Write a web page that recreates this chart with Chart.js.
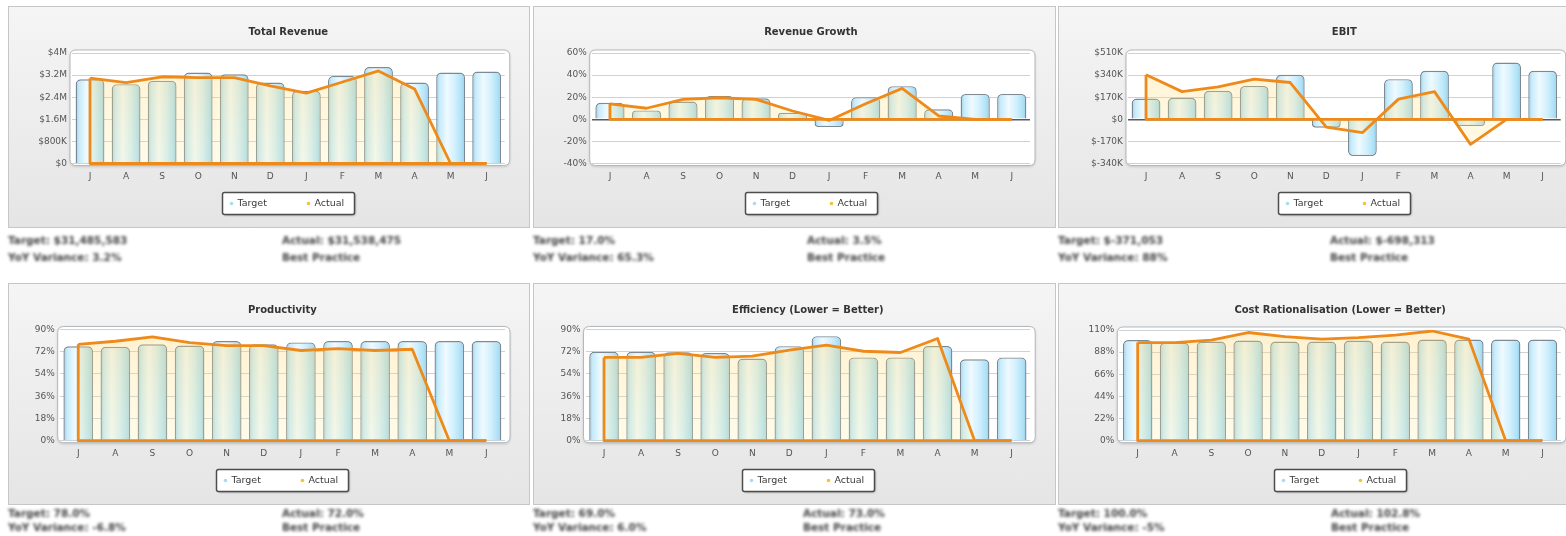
<!DOCTYPE html>
<html>
<head>
<meta charset="utf-8">
<script src="https://cdn.jsdelivr.net/npm/chart.js@4.4.1/dist/chart.umd.min.js"></script>
<style>
  html, body { margin: 0; padding: 0; background: #fff; }
  body { width: 1566px; height: 536px; overflow: hidden; position: relative; font-family: "DejaVu Sans", sans-serif; }
  .panel { position: absolute; box-sizing: border-box; border: 1px solid #c6c6c6; background: linear-gradient(#f5f5f5, #e5e5e5); }
  canvas.kpi { position: absolute; }
  .note { position: absolute; font: bold 10.5px "DejaVu Sans", sans-serif; line-height: 12px; color: #444; white-space: nowrap; filter: blur(1.4px); }
</style>
</head>
<body>
<script>
// Month axis (financial year July .. June)
const months = ['J', 'A', 'S', 'O', 'N', 'D', 'J', 'F', 'M', 'A', 'M', 'J'];

// Total Revenue ($)
const revenueTarget = [3050000, 2870000, 3000000, 3290000, 3230000, 2930000, 2630000, 3170000, 3490000, 2930000, 3290000, 3330000];
const revenueActual = [3090000, 2930000, 3140000, 3110000, 3110000, 2810000, 2550000, 2950000, 3350000, 2700000, 0, 0];

// Revenue Growth (%)
const growthTarget = [15, 8, 16, 21, 19, 6, -7, 20, 30, 9, 23, 23];
const growthActual = [14, 10, 18, 19.5, 18, 7.5, -1, 14, 28, 3, 0, 0];

// EBIT ($)
const ebitTarget = [160000, 165000, 219000, 257000, 342000, -65000, -283000, 309000, 373000, -52000, 437000, 373000];
const ebitActual = [342000, 213000, 250000, 309000, 283000, -60000, -103000, 155000, 213000, -193000, 0, 0];

// Productivity (%)
const productivityTarget = [76.4, 76, 78, 77, 80.7, 78, 79.5, 80.7, 80.7, 80.7, 80.7, 80.7];
const productivityActual = [78, 80.5, 84, 79.4, 77, 77, 73, 74.6, 73, 74, 0, 0];

// Efficiency (%), lower is better
const efficiencyTarget = [72, 72, 71.6, 71, 66.5, 76.5, 84.6, 67.4, 67.4, 76.6, 65.9, 67.4];
const efficiencyActual = [67.4, 67.4, 70.6, 67.4, 68.4, 73.3, 77.3, 72.4, 71.4, 82.7, 0, 0];

// Cost Rationalisation (%), lower is better
const costTarget = [100, 97.5, 98.5, 99.5, 98.5, 98.5, 99.5, 98.5, 100.5, 100.5, 100.5, 100.5];
const costActual = [97.5, 97.5, 100, 107.5, 103.5, 101, 102.5, 105, 109, 101, 0, 0];

// Value-axis ranges [min, max, step]
const revenueAxis = [0, 4000000, 800000];
const growthAxis = [-40, 60, 20];
const ebitAxis = [-340000, 510000, 170000];
const productivityAxis = [0, 90, 18];
const efficiencyAxis = [0, 90, 18];
const costAxis = [0, 110, 22];

// Summary lines shown under each panel
const revenueNotes = ['Target: $31,485,583', 'YoY Variance: 3.2%', 'Actual: $31,538,475', 'Best Practice'];
const growthNotes = ['Target: 17.0%', 'YoY Variance: 65.3%', 'Actual: 3.5%', 'Best Practice'];
const ebitNotes = ['Target: $-371,053', 'YoY Variance: 88%', 'Actual: $-698,313', 'Best Practice'];
const productivityNotes = ['Target: 78.0%', 'YoY Variance: -6.8%', 'Actual: 72.0%', 'Best Practice'];
const efficiencyNotes = ['Target: 69.0%', 'YoY Variance: 6.0%', 'Actual: 73.0%', 'Best Practice'];
const costNotes = ['Target: 100.0%', 'YoY Variance: -5%', 'Actual: 102.8%', 'Best Practice'];

const money = v => {
  if (v === 0) return '$0';
  const a = Math.abs(v);
  if (a >= 1000000) return '$' + parseFloat((v / 1000000).toFixed(1)) + 'M';
  return '$' + Math.round(v / 1000) + 'K';
};
const pct = v => Math.round(v) + '%';

const FONT = '"DejaVu Sans", sans-serif';
const LINE = '#ee8a1a';

// Panel frames and plot rectangles in page pixels
const panels = [
  { title: 'Total Revenue', target: revenueTarget, actual: revenueActual, axis: revenueAxis, fmt: money, zero: false,
    box: [8, 6, 522, 222], plot: [72, 504.7, 53, 163.5], notes: revenueNotes, noteX: [8, 282], noteY: [234, 250.5] },
  { title: 'Revenue Growth', target: growthTarget, actual: growthActual, axis: growthAxis, fmt: pct, zero: true,
    box: [533, 6, 523, 222], plot: [591.7, 1030, 53, 163.5], notes: growthNotes, noteX: [533, 807], noteY: [234, 250.5] },
  { title: 'EBIT', target: ebitTarget, actual: ebitActual, axis: ebitAxis, fmt: money, zero: true,
    box: [1058, 6, 523, 222], plot: [1128, 1560.7, 53, 163.5], notes: ebitNotes, noteX: [1058, 1330], noteY: [234, 250.5] },
  { title: 'Productivity', target: productivityTarget, actual: productivityActual, axis: productivityAxis, fmt: pct, zero: false,
    box: [8, 283, 522, 222], plot: [59.7, 505, 329.5, 440.7], notes: productivityNotes, noteX: [8, 282], noteY: [507, 521] },
  { title: 'Efficiency (Lower = Better)', target: efficiencyTarget, actual: efficiencyActual, axis: efficiencyAxis, fmt: pct, zero: false,
    box: [533, 283, 523, 222], plot: [585.5, 1030.2, 329.5, 440.7], notes: efficiencyNotes, noteX: [533, 803], noteY: [507, 521] },
  { title: 'Cost Rationalisation (Lower = Better)', target: costTarget, actual: costActual, axis: costAxis, fmt: pct, zero: false,
    box: [1058, 283, 523, 222], plot: [1119.3, 1560.9, 330, 440.7], notes: costNotes, noteX: [1058, 1331], noteY: [507, 521] }
];

function roundRect(ctx, x, y, w, h, r) {
  ctx.beginPath();
  ctx.moveTo(x + r, y);
  ctx.lineTo(x + w - r, y);
  ctx.quadraticCurveTo(x + w, y, x + w, y + r);
  ctx.lineTo(x + w, y + h - r);
  ctx.quadraticCurveTo(x + w, y + h, x + w - r, y + h);
  ctx.lineTo(x + r, y + h);
  ctx.quadraticCurveTo(x, y + h, x, y + h - r);
  ctx.lineTo(x, y + r);
  ctx.quadraticCurveTo(x, y, x + r, y);
  ctx.closePath();
}

// Panel decorations: white plot frame, closed outline of the Actual area, title and legend box
const decor = {
  id: 'decor',
  beforeDraw(chart) {
    const a = chart.chartArea, ctx = chart.ctx;
    ctx.save();
    ctx.shadowColor = 'rgba(0,0,0,0.2)';
    ctx.shadowBlur = 3;
    ctx.shadowOffsetY = 1;
    roundRect(ctx, a.left - 2, a.top - 3, a.right - a.left + 7, a.bottom - a.top + 5, 6);
    ctx.fillStyle = '#ffffff';
    ctx.fill();
    ctx.shadowColor = 'transparent';
    ctx.strokeStyle = '#b3b8bc';
    ctx.lineWidth = 1;
    ctx.stroke();
    ctx.restore();
  },
  afterDatasetsDraw(chart) {
    const ctx = chart.ctx, xs = chart.scales.x, ys = chart.scales.y;
    const ds = chart.data.datasets[1].data;
    const y0 = ys.getPixelForValue(0);
    const xFirst = xs.getPixelForValue(0), xLast = xs.getPixelForValue(ds.length - 1);
    ctx.save();
    ctx.strokeStyle = LINE;
    ctx.lineWidth = 2.8;
    ctx.lineJoin = 'round';
    ctx.beginPath();
    ctx.moveTo(xFirst, ys.getPixelForValue(ds[0]));
    ctx.lineTo(xFirst, y0);
    ctx.lineTo(xLast, y0);
    ctx.stroke();
    ctx.restore();
  },
  afterDraw(chart, args, opts) {
    const a = chart.chartArea, ctx = chart.ctx;
    const cx = (a.left + a.right) / 2;
    ctx.save();
    ctx.fillStyle = '#333';
    ctx.font = 'bold 10px ' + FONT;
    ctx.textAlign = 'center';
    ctx.textBaseline = 'middle';
    ctx.fillText(opts.title, cx, opts.titleY);

    // legend box
    const w = 132, h = 22, lx = Math.round(cx - w / 2) + 0.5, ly = opts.legendY + 0.5;
    ctx.shadowColor = 'rgba(0,0,0,0.35)';
    ctx.shadowBlur = 2;
    ctx.shadowOffsetX = 1;
    ctx.shadowOffsetY = 1;
    roundRect(ctx, lx, ly, w, h, 2);
    ctx.fillStyle = '#fff';
    ctx.fill();
    ctx.shadowColor = 'transparent';
    ctx.strokeStyle = '#4d4d4d';
    ctx.lineWidth = 1.5;
    ctx.stroke();

    const items = chart.data.datasets;
    const marks = ['#a9dcf3', '#f3c23a'];
    const offs = [9, 86];
    ctx.font = '9.5px ' + FONT;
    ctx.textAlign = 'left';
    items.forEach((d, i) => {
      ctx.fillStyle = marks[i];
      ctx.beginPath();
      ctx.arc(lx + offs[i], ly + h / 2, 1.8, 0, Math.PI * 2);
      ctx.fill();
      ctx.fillStyle = '#3a3a3a';
      ctx.fillText(d.label, lx + offs[i] + 6, ly + h / 2 + 0.5);
    });
    ctx.restore();
  }
};

function barFill(ctx) {
  const chart = ctx.chart;
  const xs = chart.scales.x;
  if (!chart.chartArea || !xs || ctx.dataIndex === undefined) return '#c8ecfb';
  const cw = (xs.right - xs.left) / months.length;
  const cx = xs.getPixelForValue(ctx.dataIndex);
  const bw = cw * 0.8;
  const g = chart.ctx.createLinearGradient(cx - bw / 2, 0, cx + bw / 2, 0);
  g.addColorStop(0, '#98cde8');
  g.addColorStop(0.12, '#c6ebfb');
  g.addColorStop(0.38, '#effaff');
  g.addColorStop(0.65, '#d2f0fd');
  g.addColorStop(0.9, '#ace0f6');
  g.addColorStop(1, '#90c6e2');
  return g;
}

function areaFill(ctx) {
  const chart = ctx.chart, a = chart.chartArea;
  if (!a) return 'rgba(255,222,120,0.25)';
  const g = chart.ctx.createLinearGradient(0, a.top, 0, a.bottom);
  g.addColorStop(0, 'rgba(255,212,110,0.32)');
  g.addColorStop(1, 'rgba(255,238,160,0.22)');
  return g;
}

panels.forEach(p => {
  const [bx, by, bw, bh] = p.box;
  const [pl, pr, pt, pb] = p.plot;

  const frame = document.createElement('div');
  frame.className = 'panel';
  Object.assign(frame.style, { left: bx + 'px', top: by + 'px', width: bw + 'px', height: bh + 'px' });
  document.body.appendChild(frame);

  const cv = document.createElement('canvas');
  cv.className = 'kpi';
  cv.width = bw; cv.height = bh;
  Object.assign(cv.style, { left: bx + 'px', top: by + 'px', width: bw + 'px', height: bh + 'px' });
  document.body.appendChild(cv);

  const yW = pl - bx;
  const xH = 22;
  const padTop = pt - by;
  const padRight = bx + bw - pr;
  const padBottom = bh - (pb - by) - xH;

  new Chart(cv, {
    type: 'bar',
    data: {
      labels: months,
      datasets: [
        { type: 'bar', label: 'Target', data: p.target, order: 2,
          backgroundColor: barFill, borderColor: '#7d8a94', borderWidth: 1.4,
          borderRadius: 5, borderSkipped: 'start',
          barPercentage: 0.8, categoryPercentage: 1 },
        { type: 'line', label: 'Actual', data: p.actual, order: 1,
          borderColor: LINE, borderWidth: 2.8, backgroundColor: areaFill,
          fill: 'origin', tension: 0, pointRadius: 0, borderJoinStyle: 'round' }
      ]
    },
    options: {
      responsive: false,
      animation: false,
      devicePixelRatio: 1,
      layout: { padding: { top: padTop, right: padRight, bottom: padBottom, left: 0 } },
      plugins: {
        legend: { display: false },
        tooltip: { enabled: false },
        decor: { title: p.title, titleY: by === 6 ? 26.5 : 27, legendY: 186 }
      },
      scales: {
        x: {
          grid: { display: false, drawTicks: false },
          border: { display: false },
          ticks: { font: { family: FONT, size: 9 }, color: '#555', padding: 8, maxRotation: 0, autoSkip: false },
          afterFit: s => { s.height = xH; }
        },
        y: {
          min: p.axis[0], max: p.axis[1],
          grid: {
            drawTicks: false,
            color: c => (p.zero && c.tick && c.tick.value === 0) ? '#5a5a5a' : '#cbd3d9',
            lineWidth: c => (p.zero && c.tick && c.tick.value === 0) ? 1.6 : 1
          },
          border: { display: false },
          ticks: { stepSize: p.axis[2], font: { family: FONT, size: 9 }, color: '#555', padding: 5, callback: v => p.fmt(v) },
          afterFit: s => { s.width = yW; }
        }
      }
    },
    plugins: [decor]
  });

  p.notes.forEach((t, i) => {
    const n = document.createElement('div');
    n.className = 'note';
    n.textContent = t;
    n.style.left = p.noteX[i < 2 ? 0 : 1] + 'px';
    n.style.top = p.noteY[i % 2] + 'px';
    document.body.appendChild(n);
  });
});
</script>
</body>
</html>
